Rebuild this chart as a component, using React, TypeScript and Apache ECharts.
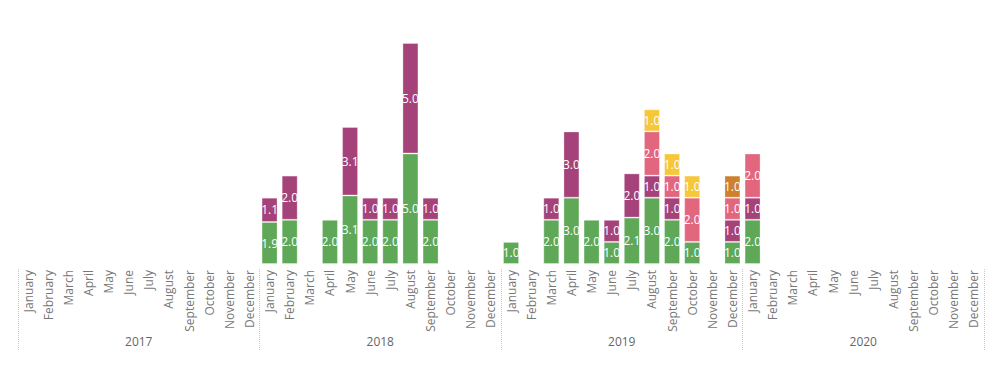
import React, { useEffect, useRef } from "react";
import * as echarts from "echarts";

const years = ["2017", "2018", "2019", "2020"];
const monthNames = ["January", "February", "March", "April", "May", "June", "July", "August", "September", "October", "November", "December"];
const months: string[] = [];
years.forEach(() => monthNames.forEach((m) => months.push(m)));

const N = null;
// 2017 (12), 2018 (12), 2019 (12), 2020 (12)
const greenVals = [
  N, N, N, N, N, N, N, N, N, N, N, N,
  1.9, 2.0, N, 2.0, 3.1, 2.0, 2.0, 5.0, 2.0, N, N, N,
  1.0, N, 2.0, 3.0, 2.0, 1.0, 2.1, 3.0, 2.0, 1.0, N, 1.0,
  2.0, N, N, N, N, N, N, N, N, N, N, N,
];
const purpleVals = [
  N, N, N, N, N, N, N, N, N, N, N, N,
  1.1, 2.0, N, N, 3.1, 1.0, 1.0, 5.0, 1.0, N, N, N,
  N, N, 1.0, 3.0, N, 1.0, 2.0, 1.0, 1.0, N, N, 1.0,
  1.0, N, N, N, N, N, N, N, N, N, N, N,
];
const pinkVals = [
  N, N, N, N, N, N, N, N, N, N, N, N,
  N, N, N, N, N, N, N, N, N, N, N, N,
  N, N, N, N, N, N, N, 2.0, 1.0, 2.0, N, 1.0,
  2.0, N, N, N, N, N, N, N, N, N, N, N,
];
const yellowVals = [
  N, N, N, N, N, N, N, N, N, N, N, N,
  N, N, N, N, N, N, N, N, N, N, N, N,
  N, N, N, N, N, N, N, 1.0, 1.0, 1.0, N, N,
  N, N, N, N, N, N, N, N, N, N, N, N,
];
const orangeVals = [
  N, N, N, N, N, N, N, N, N, N, N, N,
  N, N, N, N, N, N, N, N, N, N, N, N,
  N, N, N, N, N, N, N, N, N, N, N, 1.0,
  N, N, N, N, N, N, N, N, N, N, N, N,
];

const seriesDefs = [
  { name: "Green", data: greenVals, color: "#5EA857" },
  { name: "Purple", data: purpleVals, color: "#A6427A" },
  { name: "Pink", data: pinkVals, color: "#E2667D" },
  { name: "Yellow", data: yellowVals, color: "#F6C738" },
  { name: "Orange", data: orangeVals, color: "#CD802E" },
];

export default function App() {
  const ref = useRef<HTMLDivElement>(null);
  useEffect(() => {
    if (!ref.current) return;
    const chart = echarts.init(ref.current, undefined, { renderer: "svg" });
    const font = "'Open Sans', 'Noto Sans', sans-serif";
    chart.setOption({
      animation: false,
      grid: { left: 10, right: 7, top: 35, bottom: 106, containLabel: false },
      xAxis: [
        {
          type: "category",
          data: months,
          axisLine: { show: false },
          axisTick: { show: false },
          axisLabel: {
            rotate: 90,
            interval: 0,
            margin: 6,
            color: "#777",
            fontSize: 12,
            fontFamily: font,
          },
        },
        {
          type: "category",
          data: years,
          position: "bottom",
          offset: 86,
          axisLine: { show: false },
          axisTick: {
            show: true,
            inside: true,
            length: 82,
            lineStyle: { color: "#c8c8c8", type: "dotted", width: 1 },
          },
          axisLabel: {
            inside: true,
            margin: 3,
            color: "#666",
            fontSize: 12,
            fontFamily: font,
          },
        },
      ],
      yAxis: {
        type: "value",
        min: 0,
        max: 10,
        show: false,
        splitLine: { show: false },
      },
      series: seriesDefs.map((s) => ({
        name: s.name,
        type: "bar",
        stack: "total",
        data: s.data,
        barWidth: 16,
        itemStyle: {
          color: s.color,
          borderColor: "rgba(255,255,255,0.3)",
          borderWidth: 1,
        },
        label: {
          show: true,
          position: "inside",
          color: "#fff",
          fontSize: 12,
          fontFamily: font,
          formatter: (p: any) => (p.value == null ? "" : Number(p.value).toFixed(1)),
        },
      })),
    });
    return () => chart.dispose();
  }, []);
  return <div ref={ref} style={{ width: 983, height: 362 }} />;
}
